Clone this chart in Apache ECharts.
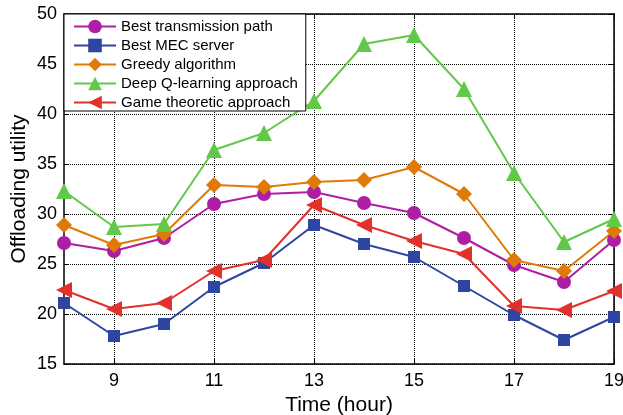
<!DOCTYPE html>
<html>
<head>
<meta charset="utf-8">
<script src="https://cdn.jsdelivr.net/npm/echarts@6/dist/echarts.min.js"></script>
<style>
html,body{margin:0;padding:0;background:#fff;}
#c{width:623px;height:415px;}
</style>
</head>
<body>
<div id="c"></div>
<script>
const hours = [8, 9, 10, 11, 12, 13, 14, 15, 16, 17, 18, 19];
const bestPath = [27.1, 26.3, 27.6, 31.0, 32.0, 32.2, 31.1, 30.1, 27.6, 24.9, 23.2, 27.4];
const bestMEC  = [21.1, 17.8, 19.0, 22.7, 25.1, 28.9, 27.0, 25.7, 22.8, 19.9, 17.4, 19.7];
const greedy   = [28.9, 26.9, 28.0, 32.9, 32.7, 33.2, 33.4, 34.7, 32.0, 25.4, 24.3, 28.3];
const deepQ    = [32.3, 28.7, 29.0, 36.4, 38.1, 41.3, 47.0, 47.9, 42.5, 34.1, 27.2, 29.5];
const game     = [22.4, 20.5, 21.1, 24.3, 25.4, 30.9, 28.9, 27.3, 26.0, 20.8, 20.4, 22.3];
const xTicks = [9, 11, 13, 15, 17, 19];
const seriesNames = ['Best transmission path', 'Best MEC server', 'Greedy algorithm', 'Deep Q-learning approach', 'Game theoretic approach'];

const FONT = '"Liberation Sans", Arial, sans-serif';
const pair = (ys) => hours.map((h, i) => [h, ys[i]]);

const styles = [
  {color: '#AE1EA5', symbol: 'circle', size: 14, rotate: 0},
  {color: '#2E45A2', symbol: 'rect', size: 12, rotate: 0},
  {color: '#E07A06', symbol: 'diamond', size: 16, rotate: 0},
  {color: '#62C84A', symbol: 'triangle', size: 16, rotate: 0},
  {color: '#E2302A', symbol: 'triangle', size: 16, rotate: 90}
];
const datas = [bestPath, bestMEC, greedy, deepQ, game];

const chart = echarts.init(document.getElementById('c'), null, {renderer: 'canvas'});
chart.setOption({
  backgroundColor: '#fff',
  animation: false,
  grid: {left: 64, right: 9, top: 14, bottom: 51, containLabel: false, outerBoundsMode: 'none'},
  legend: {
    orient: 'vertical', left: 64, top: 14,
    backgroundColor: '#fff', borderColor: '#000', borderWidth: 1,
    padding: [5, 8, 1, 9],
    itemWidth: 42, itemHeight: 17, itemGap: 4,
    textStyle: {fontFamily: FONT, fontSize: 15, color: '#000'},
    data: seriesNames
  },
  xAxis: [{
    type: 'value', min: 8, max: 19, position: 'bottom',
    name: 'Time (hour)', nameLocation: 'middle', nameGap: 31,
    nameTextStyle: {fontFamily: FONT, fontSize: 21, color: '#000'},
    axisLine: {show: true, onZero: false, lineStyle: {color: '#000', width: 1.5}},
    axisTick: {show: true, inside: true, length: 5, customValues: xTicks, lineStyle: {color: '#000'}},
    axisLabel: {customValues: xTicks, fontFamily: FONT, fontSize: 18, color: '#000', margin: 8},
    splitLine: {show: true, lineStyle: {type: 'dotted', color: '#000', width: 1}}
  }, {
    type: 'value', min: 8, max: 19, position: 'top',
    axisLine: {show: true, onZero: false, lineStyle: {color: '#000', width: 1.5}},
    axisTick: {show: true, inside: true, length: 5, customValues: xTicks, lineStyle: {color: '#000'}},
    axisLabel: {show: false},
    splitLine: {show: false}
  }],
  yAxis: [{
    type: 'value', min: 15, max: 50, interval: 5, position: 'left',
    name: 'Offloading utility', nameLocation: 'middle', nameGap: 34, nameMoveOverlap: false,
    nameTextStyle: {fontFamily: FONT, fontSize: 21, color: '#000'},
    axisLine: {show: true, onZero: false, lineStyle: {color: '#000', width: 1.5}},
    axisTick: {show: true, inside: true, length: 5, lineStyle: {color: '#000'}},
    axisLabel: {fontFamily: FONT, fontSize: 18, color: '#000', margin: 7},
    splitLine: {show: true, lineStyle: {type: 'dotted', color: '#000', width: 1}}
  }, {
    type: 'value', min: 15, max: 50, interval: 5, position: 'right',
    axisLine: {show: true, onZero: false, lineStyle: {color: '#000', width: 1.5}},
    axisTick: {show: true, inside: true, length: 5, lineStyle: {color: '#000'}},
    axisLabel: {show: false},
    splitLine: {show: false}
  }],
  series: seriesNames.map((name, k) => ({
    name: name,
    type: 'line',
    xAxisIndex: 0, yAxisIndex: 0,
    data: pair(datas[k]),
    symbol: styles[k].symbol,
    symbolSize: styles[k].size,
    symbolRotate: styles[k].rotate,
    showAllSymbol: true,
    color: styles[k].color,
    lineStyle: {width: 2, color: styles[k].color},
    itemStyle: {color: styles[k].color}
  }))
});
</script>
</body>
</html>
